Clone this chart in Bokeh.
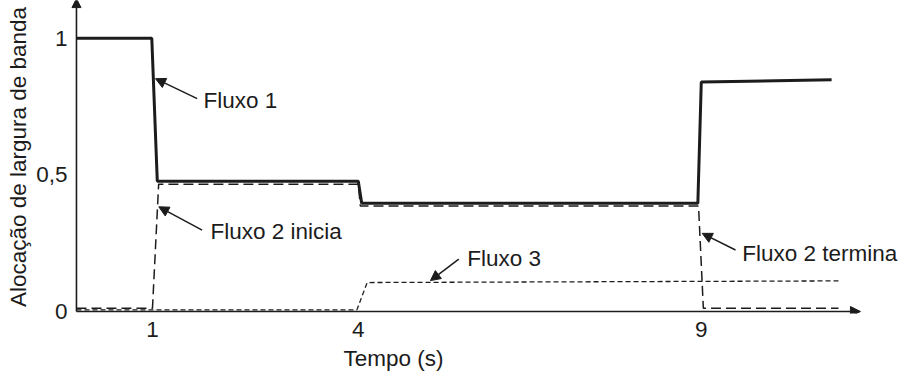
from bokeh.plotting import figure
from bokeh.models import Range1d, FixedTicker, Arrow, NormalHead, Label, Title
from bokeh.embed import file_html
from bokeh.resources import INLINE

# Tick positions and labels
tick_x = [1, 4, 9]
tick_y = [0, 0.5, 1]
tick_y_labels = ["0", "0,5", "1"]

# Bandwidth share of each flow over time (s)
t_fluxo1 = [-0.108, 0.99, 1.07, 4.0, 4.05, 8.95, 9.0, 10.9]
v_fluxo1 = [1.0, 1.0, 0.477, 0.477, 0.396, 0.396, 0.84, 0.848]

t_fluxo2 = [-0.108, 1.0, 1.09, 4.0, 4.03, 8.96, 9.03, 11.0]
v_fluxo2 = [0.012, 0.012, 0.466, 0.466, 0.386, 0.386, 0.012, 0.012]

t_fluxo3 = [-0.108, 3.98, 4.13, 11.0]
v_fluxo3 = [0.006, 0.006, 0.106, 0.112]

INK = "#1c1c1c"
FONT = "Liberation Sans"
FSIZE = "22.5px"

p = figure(
    width=900, height=376,
    x_range=Range1d(-0.195, 11.904),
    y_range=Range1d(-0.0073, 1.138),
    output_backend="svg", toolbar_location=None,
    min_border_left=70, min_border_right=0,
    min_border_top=0, min_border_bottom=63,
    background_fill_color=None, border_fill_color="white",
    outline_line_color=None,
)
p.grid.visible = False

for ax in (p.xaxis[0], p.yaxis[0]):
    ax.axis_line_color = None
    ax.major_tick_line_color = None
    ax.minor_tick_line_color = None
    ax.major_tick_in = 0
    ax.major_tick_out = 0
    ax.major_label_text_font = FONT
    ax.major_label_text_font_size = FSIZE
    ax.major_label_text_color = INK
    ax.axis_label_text_font = FONT
    ax.axis_label_text_font_size = FSIZE
    ax.axis_label_text_font_style = "normal"
    ax.axis_label_text_color = INK

p.xaxis.ticker = FixedTicker(ticks=tick_x)
p.yaxis.ticker = FixedTicker(ticks=tick_y)
p.yaxis.major_label_overrides = {t: s for t, s in zip(tick_y, tick_y_labels)}
p.yaxis.axis_label = "Alocação de largura de banda"
p.xaxis.major_label_standoff = 8
p.yaxis.major_label_standoff = 3
p.yaxis.axis_label_standoff = 2

# Time axis title, placed under the tick labels
p.add_layout(Title(text="Tempo (s)", align="left", offset=273, standoff=8,
                   vertical_align="bottom",
                   text_font=FONT, text_font_size=FSIZE,
                   text_font_style="normal", text_color=INK), "below")

# Axis lines with arrowheads
x0 = -0.108
p.add_layout(Arrow(end=NormalHead(size=10, fill_color=INK, line_color=INK),
                   x_start=x0, y_start=0, x_end=11.32, y_end=0,
                   line_color=INK, line_width=1.6))
p.add_layout(Arrow(end=NormalHead(size=9, fill_color=INK, line_color=INK),
                   x_start=x0, y_start=0, x_end=x0, y_end=1.145,
                   line_color=INK, line_width=1.6))

# Flows
p.line(t_fluxo3, v_fluxo3, line_color=INK, line_width=1.3, line_dash="5 3")
p.line(t_fluxo2, v_fluxo2, line_color=INK, line_width=1.5, line_dash="10 5")
p.line(t_fluxo1, v_fluxo1, line_color=INK, line_width=3)

# Callouts
def callout(text, tx, ty, ax0, ay0, ax1, ay1):
    p.add_layout(Arrow(end=NormalHead(size=10, fill_color=INK, line_color=INK),
                       x_start=ax0, y_start=ay0, x_end=ax1, y_end=ay1,
                       line_color=INK, line_width=1.5))
    p.add_layout(Label(x=tx, y=ty, text=text, text_font=FONT,
                       text_font_size=FSIZE, text_color=INK,
                       text_align="left", text_baseline="middle"))

callout("Fluxo 1", 1.743, 0.773, 1.652, 0.779, 1.044, 0.852)
callout("Fluxo 2 inicia", 1.845, 0.292, 1.724, 0.298, 1.092, 0.383)
callout("Fluxo 3", 5.587, 0.195, 5.465, 0.192, 5.052, 0.113)
callout("Fluxo 2 termina", 9.596, 0.213, 9.499, 0.225, 9.013, 0.286)

open("out.html", "w").write(file_html(p, INLINE))
